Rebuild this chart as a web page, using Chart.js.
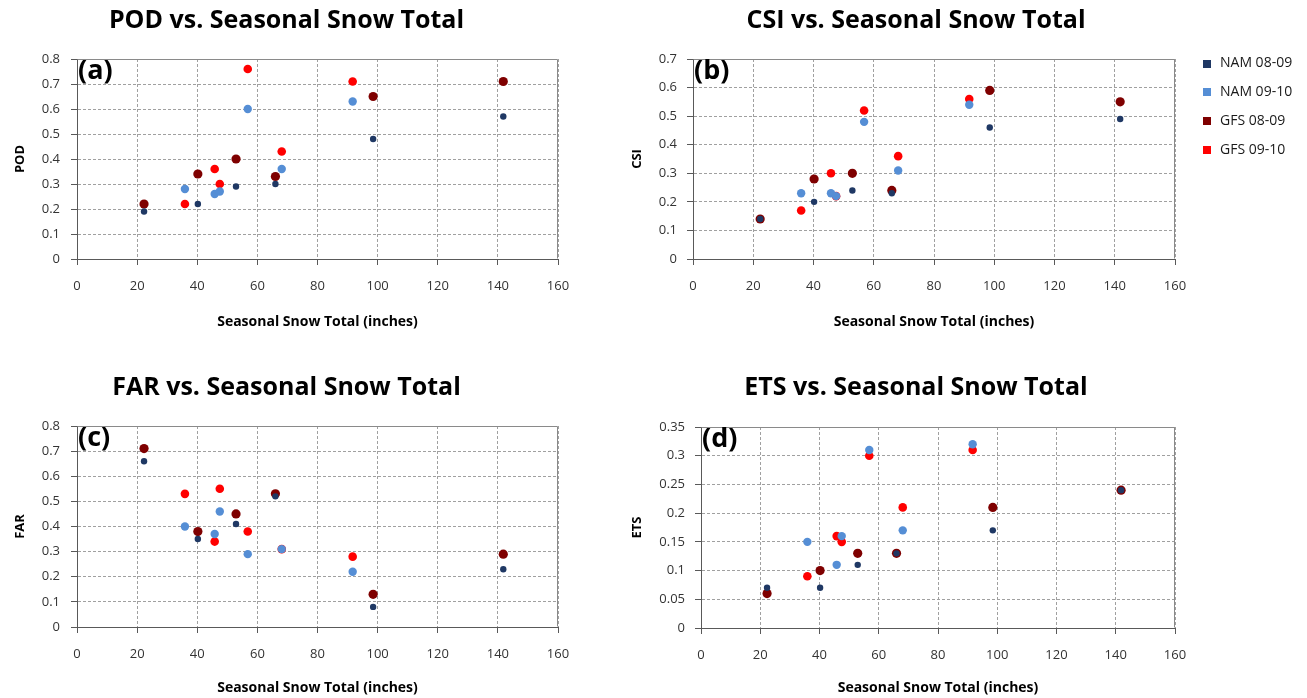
<!DOCTYPE html>
<html>
<head>
<meta charset="utf-8">
<title>Verification scores vs. seasonal snow total</title>
<script src="https://cdn.jsdelivr.net/npm/chart.js@4.4.1/dist/chart.umd.min.js"></script>
<style>
  html, body { margin: 0; padding: 0; background: #ffffff; }
  body { width: 1307px; height: 698px; position: relative; overflow: hidden; }
  canvas { position: absolute; }
</style>
</head>
<body>
<canvas id="podChart" width="600" height="345" style="left:0px;top:0px"></canvas>
<canvas id="csiChart" width="707" height="345" style="left:600px;top:0px"></canvas>
<canvas id="farChart" width="600" height="331" style="left:0px;top:367px"></canvas>
<canvas id="etsChart" width="707" height="331" style="left:600px;top:367px"></canvas>
<script>
// Seasonal snow totals (inches) of the sites in each season
const snow0809 = [22.3, 40.2, 52.9, 66.0, 98.5, 141.8];
const snow0910 = [35.9, 45.8, 47.5, 56.8, 68.1, 91.7];

const seriesNames = ['NAM 08-09', 'NAM 09-10', 'GFS 08-09', 'GFS 09-10'];

// Probability of detection
const podNam0809 = [0.19, 0.22, 0.29, 0.30, 0.48, 0.57];
const podNam0910 = [0.28, 0.26, 0.27, 0.60, 0.36, 0.63];
const podGfs0809 = [0.22, 0.34, 0.40, 0.33, 0.65, 0.71];
const podGfs0910 = [0.22, 0.36, 0.30, 0.76, 0.43, 0.71];

// Critical success index
const csiNam0809 = [0.14, 0.20, 0.24, 0.23, 0.46, 0.49];
const csiNam0910 = [0.23, 0.23, 0.22, 0.48, 0.31, 0.54];
const csiGfs0809 = [0.14, 0.28, 0.30, 0.24, 0.59, 0.55];
const csiGfs0910 = [0.17, 0.30, 0.22, 0.52, 0.36, 0.56];

// False alarm ratio
const farNam0809 = [0.66, 0.35, 0.41, 0.52, 0.08, 0.23];
const farNam0910 = [0.40, 0.37, 0.46, 0.29, 0.31, 0.22];
const farGfs0809 = [0.71, 0.38, 0.45, 0.53, 0.13, 0.29];
const farGfs0910 = [0.53, 0.34, 0.55, 0.38, 0.31, 0.28];

// Equitable threat score
const etsNam0809 = [0.07, 0.07, 0.11, 0.13, 0.17, 0.24];
const etsNam0910 = [0.15, 0.11, 0.16, 0.31, 0.17, 0.32];
const etsGfs0809 = [0.06, 0.10, 0.13, 0.13, 0.21, 0.24];
const etsGfs0910 = [0.09, 0.16, 0.15, 0.30, 0.21, 0.31];

// Axis tick values
const xTicks = [0, 20, 40, 60, 80, 100, 120, 140, 160];
const podTicks = [0, 0.1, 0.2, 0.3, 0.4, 0.5, 0.6, 0.7, 0.8];
const csiTicks = [0, 0.1, 0.2, 0.3, 0.4, 0.5, 0.6, 0.7];
const farTicks = [0, 0.1, 0.2, 0.3, 0.4, 0.5, 0.6, 0.7, 0.8];
const etsTicks = [0, 0.05, 0.1, 0.15, 0.2, 0.25, 0.3, 0.35];

const FONT = "'Open Sans', 'Liberation Sans', Arial, sans-serif";

const seriesStyle = [
  { color: '#1F3864', radius: 3.2 },
  { color: '#558ED5', radius: 4.2 },
  { color: '#7F0000', radius: 4.6 },
  { color: '#FF0000', radius: 4.3 }
];

// Solid top and right edges of the plot frame
const frameEdges = {
  id: 'frameEdges',
  beforeDatasetsDraw(chart) {
    const { ctx, chartArea: a } = chart;
    const l = Math.round(a.left) + 0.5, r = Math.round(a.right) - 0.5;
    const t = Math.round(a.top) + 0.5, b = Math.round(a.bottom) - 0.5;
    ctx.save();
    ctx.strokeStyle = '#8a8a8a';
    ctx.lineWidth = 1;
    ctx.beginPath();
    ctx.moveTo(l, t); ctx.lineTo(r, t); ctx.lineTo(r, b);
    ctx.stroke();
    ctx.restore();
  }
};

// Panel letter in the top-left corner of the plot area
const panelTag = {
  id: 'panelTag',
  afterDatasetsDraw(chart, args, opts) {
    if (!opts.text) return;
    const { ctx, chartArea: a } = chart;
    ctx.save();
    ctx.font = 'bold 27px ' + FONT;
    ctx.fillStyle = '#000';
    ctx.textBaseline = 'top';
    ctx.textAlign = 'left';
    ctx.fillText(opts.text, a.left + 1, a.top - 1);
    ctx.restore();
  }
};

// Series key with square swatches, right of the plot area
const seriesKey = {
  id: 'seriesKey',
  afterDraw(chart, args, opts) {
    if (!opts.show) return;
    const { ctx } = chart;
    ctx.save();
    ctx.font = '14px ' + FONT;
    ctx.textBaseline = 'middle';
    ctx.textAlign = 'left';
    chart.data.datasets.forEach((ds, k) => {
      const cy = opts.y[k];
      ctx.fillStyle = ds.backgroundColor;
      ctx.fillRect(opts.x, Math.round(cy - 4), 8, 8);
      ctx.fillStyle = '#1a1a1a';
      ctx.fillText(ds.label, opts.textX, cy);
    });
    ctx.restore();
  }
};

function buildPanel(id, cfg) {
  const datasets = cfg.series.map((vals, k) => {
    const xs = k % 2 === 0 ? snow0809 : snow0910;
    return {
      label: seriesNames[k],
      data: xs.map((x, i) => ({ x: x, y: vals[i] })),
      backgroundColor: seriesStyle[k].color,
      borderColor: seriesStyle[k].color,
      borderWidth: 0,
      pointRadius: seriesStyle[k].radius,
      pointHoverRadius: seriesStyle[k].radius
    };
  });
  const gridLook = {
    color: '#a0a0a0', lineWidth: 1, drawTicks: true, tickLength: 6,
    tickColor: '#595959', tickWidth: 1, tickBorderDash: []
  };
  const borderLook = { display: true, color: '#595959', width: 1, dash: [3, 2] };
  return new Chart(document.getElementById(id), {
    type: 'scatter',
    data: { datasets },
    options: {
      responsive: false,
      animation: false,
      events: [],
      layout: { padding: { left: cfg.padLeft, right: cfg.padRight, top: 0, bottom: 0 } },
      plugins: {
        legend: { display: false },
        tooltip: { enabled: false },
        title: {
          display: true, text: cfg.title, color: '#000',
          font: { family: FONT, size: 25, weight: 'bold', lineHeight: 1.2 },
          padding: { top: 6, bottom: cfg.titleGap }
        },
        panelTag: { text: cfg.tag },
        seriesKey: cfg.key || { show: false }
      },
      scales: {
        x: {
          type: 'linear', position: 'bottom', min: 0, max: 160,
          afterBuildTicks: s => { s.ticks = xTicks.map(v => ({ value: v })); },
          afterFit: s => { s.height = cfg.xHeight; },
          ticks: {
            color: '#333', font: { family: FONT, size: 13 }, padding: 13,
            maxRotation: 0, autoSkip: false, callback: v => String(v)
          },
          grid: gridLook,
          border: borderLook,
          title: {
            display: true, text: 'Seasonal Snow Total (inches)', color: '#000',
            font: { family: FONT, size: 14, weight: 'bold', lineHeight: 1.2 },
            padding: { top: 0, bottom: cfg.xTitlePad }
          }
        },
        y: {
          type: 'linear', position: 'left', min: 0, max: cfg.yTicks[cfg.yTicks.length - 1],
          afterBuildTicks: s => { s.ticks = cfg.yTicks.map(v => ({ value: v })); },
          afterFit: s => { s.width = cfg.yWidth; },
          ticks: {
            color: '#333', font: { family: FONT, size: 13 }, padding: cfg.yTickPad,
            autoSkip: false, callback: v => String(v)
          },
          grid: gridLook,
          border: borderLook,
          title: {
            display: true, text: cfg.yTitle, color: '#000',
            font: { family: FONT, size: 13, weight: 'bold', lineHeight: 1 },
            padding: { top: cfg.yTitlePad, bottom: 0 }
          }
        }
      }
    },
    plugins: [frameEdges, panelTag, seriesKey]
  });
}

buildPanel('podChart', {
  title: 'POD vs. Seasonal Snow Total', tag: '(a)', yTitle: 'POD', yTicks: podTicks,
  series: [podNam0809, podNam0910, podGfs0809, podGfs0910],
  padLeft: 15, padRight: 42, yWidth: 62, yTickPad: 11, yTitlePad: -1.5,
  titleGap: 23, xHeight: 86, xTitlePad: 15
});

buildPanel('csiChart', {
  title: 'CSI vs. Seasonal Snow Total', tag: '(b)', yTitle: 'CSI', yTicks: csiTicks,
  series: [csiNam0809, csiNam0910, csiGfs0809, csiGfs0910],
  padLeft: 57, padRight: 132, yWidth: 36, yTickPad: 10, yTitlePad: -26.5,
  titleGap: 23, xHeight: 86, xTitlePad: 15,
  key: { show: true, x: 603, textX: 620, y: [63.5, 92, 121, 150] }
});

buildPanel('farChart', {
  title: 'FAR vs. Seasonal Snow Total', tag: '(c)', yTitle: 'FAR', yTicks: farTicks,
  series: [farNam0809, farNam0910, farGfs0809, farGfs0910],
  padLeft: 15, padRight: 42, yWidth: 62, yTickPad: 11, yTitlePad: -1.5,
  titleGap: 23, xHeight: 71, xTitlePad: 2
});

buildPanel('etsChart', {
  title: 'ETS vs. Seasonal Snow Total', tag: '(d)', yTitle: 'ETS', yTicks: etsTicks,
  series: [etsNam0809, etsNam0910, etsGfs0809, etsGfs0910],
  padLeft: 57, padRight: 132, yWidth: 44, yTickPad: 10, yTitlePad: -26.5,
  titleGap: 24, xHeight: 70, xTitlePad: 2
});
</script>
</body>
</html>
